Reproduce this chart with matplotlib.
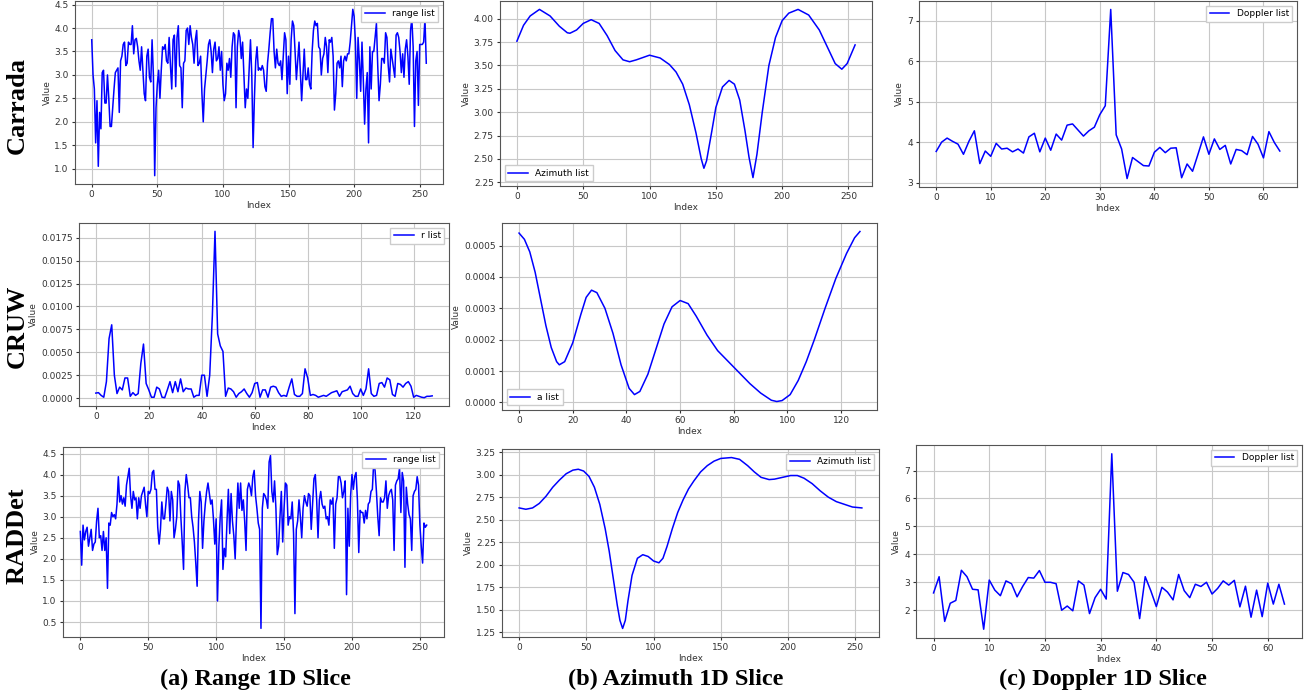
import numpy as np
import matplotlib
matplotlib.use('Agg')
import matplotlib.pyplot as plt
from matplotlib.ticker import MultipleLocator

# ---------------- data ----------------
# Carrada
carrada_range = [
    3.75, 3.0, 2.7, 1.55, 2.45, 1.05, 2.2, 1.85, 3.05, 3.1,
    2.4, 2.4, 3.0, 2.5, 1.9, 1.9, 2.3, 2.7, 3.05, 3.1,
    3.15, 2.2, 3.3, 3.4, 3.65, 3.7, 3.2, 3.25, 3.7, 3.65,
    3.65, 4.05, 3.45, 3.75, 3.78, 3.6, 3.3, 3.1, 3.6, 3.1,
    2.6, 2.45, 3.4, 3.55, 2.95, 2.85, 3.75, 3.0, 0.85, 2.3,
    2.8, 3.1, 2.5, 3.1, 3.6, 3.55, 3.65, 3.3, 3.25, 3.8,
    3.2, 2.7, 3.75, 3.85, 2.75, 3.8, 4.05, 3.2, 3.15, 2.3,
    3.25, 3.3, 3.95, 4.0, 3.65, 4.05, 3.8, 3.65, 3.25, 3.75,
    3.95, 3.2, 3.25, 3.4, 2.6, 2.0, 2.7, 3.0, 3.3, 3.65,
    3.75, 3.5, 3.05, 3.55, 3.7, 3.3, 3.35, 3.6, 3.1, 3.5,
    2.8, 2.45, 2.6, 3.25, 3.1, 3.35, 2.95, 3.6, 3.9, 3.85,
    2.3, 3.6, 3.95, 3.8, 3.35, 3.7, 3.0, 2.3, 2.7, 2.5,
    3.1, 3.75, 3.0, 1.45, 2.5, 3.3, 3.6, 3.1, 3.15, 3.1,
    3.2, 3.1, 2.75, 2.65, 3.25, 3.55, 3.9, 4.2, 4.2, 3.5,
    3.15, 3.55, 3.25, 3.2, 3.3, 2.9, 3.4, 3.9, 3.75, 2.6,
    3.4, 2.8, 3.75, 4.15, 4.05, 3.5, 2.9, 3.3, 3.7, 3.05,
    2.45, 3.0, 3.55, 2.9, 2.9, 3.15, 2.8, 2.7, 3.5, 3.95,
    4.15, 4.05, 4.1, 3.6, 3.55, 3.0, 3.35, 3.45, 3.8, 3.6,
    3.05, 3.75, 3.7, 3.8, 3.4, 2.25, 2.6, 3.25, 3.3, 3.15,
    3.4, 2.75, 3.3, 3.4, 3.3, 3.45, 3.45, 3.7, 4.05, 4.4,
    4.25, 3.7, 2.5, 3.8, 3.3, 2.65, 3.7, 2.9, 1.95, 2.7,
    3.05, 1.55, 3.6, 2.7, 3.5, 3.5, 3.8, 4.1, 3.2, 2.45,
    2.8, 3.35, 3.35, 3.25, 3.9, 3.8, 3.2, 2.85, 3.55, 3.35,
    3.15, 2.95, 3.85, 3.9, 3.8, 3.5, 3.05, 3.45, 2.95, 3.55,
    3.75, 3.4, 2.8, 3.95, 4.2, 3.6, 1.9, 3.3, 3.5, 2.35,
    3.65, 3.65, 3.65, 3.7, 4.2, 3.25]

carrada_az_idx = [0, 5, 10, 17, 25, 32, 38, 40, 45, 50, 56, 62, 68, 74, 80, 85, 90,
                  100, 108, 115, 120, 125, 130, 135, 139, 141, 143, 147, 150, 155,
                  160, 164, 168, 172, 175, 178, 181, 185, 190, 195, 200, 205, 212,
                  220, 228, 235, 240, 245, 249, 255]
carrada_az = [3.76, 3.93, 4.03, 4.10, 4.03, 3.92, 3.85, 3.845, 3.88, 3.95, 3.99, 3.95,
              3.82, 3.66, 3.56, 3.54, 3.56, 3.61, 3.58, 3.51, 3.43, 3.30, 3.08, 2.78,
              2.50, 2.40, 2.48, 2.80, 3.05, 3.27, 3.34, 3.30, 3.13, 2.80, 2.52, 2.30,
              2.55, 3.00, 3.50, 3.80, 3.98, 4.06, 4.10, 4.04, 3.88, 3.67, 3.52, 3.46,
              3.52, 3.72]

carrada_dop = [
    3.77, 4.0, 4.1, 4.02, 3.95, 3.7, 4.02, 4.28, 3.47, 3.78,
    3.65, 3.97, 3.83, 3.85, 3.76, 3.83, 3.73, 4.13, 4.22, 3.76,
    4.1, 3.8, 4.2, 4.05, 4.42, 4.45, 4.3, 4.15, 4.28, 4.37,
    4.68, 4.9, 7.28, 4.18, 3.83, 3.1, 3.62, 3.52, 3.42, 3.41,
    3.75, 3.87, 3.74, 3.85, 3.86, 3.12, 3.46, 3.28, 3.7, 4.13,
    3.7, 4.08, 3.82, 3.92, 3.46, 3.82, 3.79, 3.69, 4.14, 3.95,
    3.61, 4.26, 3.99, 3.78]

# CRUW (values in units of 1e-3)
cruw_range_milli = [
    0.55, 0.6, 0.3, 0.1, 1.8, 6.5, 8.0, 2.5, 0.5, 1.2,
    0.9, 2.2, 2.2, 0.2, 0.6, 0.3, 0.5, 3.8, 5.9, 1.6,
    0.9, 0.1, 0.1, 1.2, 1.0, 0.1, 0.05, 0.9, 1.8, 0.6,
    1.8, 0.7, 2.1, 0.7, 1.1, 1.0, 1.0, 0.1, 0.3, 0.3,
    2.5, 2.5, 0.2, 2.5, 9.0, 18.2, 7.0, 5.7, 5.1, 0.2,
    1.1, 1.0, 0.7, 0.1, 0.5, 0.7, 1.0, 0.5, 0.1, 0.6,
    1.6, 1.7, 0.1, 0.9, 0.9, 0.1, 1.2, 1.3, 1.2, 0.6,
    0.2, 0.3, 0.2, 1.2, 2.1, 0.4, 0.2, 0.2, 0.5, 3.2,
    2.2, 0.3, 0.4, 0.3, 0.1, 0.2, 0.3, 0.2, 0.4, 0.6,
    0.7, 0.8, 0.2, 0.7, 0.8, 0.9, 1.3, 0.5, 0.2, 0.2,
    1.0, 0.3, 1.0, 3.2, 0.5, 0.2, 0.3, 1.6, 1.7, 1.2,
    2.2, 2.0, 0.4, 0.2, 1.6, 1.5, 1.2, 1.6, 1.8, 1.3,
    0.1, 0.3, 0.2, 0.1, 0.05, 0.2, 0.2, 0.25]

cruw_az_idx = [0, 2, 4, 6, 8, 10, 12, 14, 15, 17, 20, 23, 25, 27, 29, 32, 35, 38, 41,
               43, 45, 48, 51, 54, 57, 60, 63, 66, 70, 74, 78, 82, 86, 90, 94, 96, 98,
               101, 104, 107, 110, 114, 118, 122, 125, 127]
cruw_az_milli = [0.54, 0.52, 0.48, 0.415, 0.33, 0.245, 0.175, 0.13, 0.12, 0.13, 0.19,
                 0.28, 0.335, 0.358, 0.35, 0.30, 0.22, 0.12, 0.045, 0.025, 0.035, 0.09,
                 0.17, 0.25, 0.305, 0.325, 0.315, 0.275, 0.215, 0.165, 0.13, 0.095,
                 0.06, 0.03, 0.007, 0.003, 0.006, 0.025, 0.07, 0.13, 0.20, 0.30, 0.395,
                 0.475, 0.525, 0.545]

# RADDet
raddet_range = [
    2.65, 1.85, 2.8, 2.45, 2.65, 2.75, 2.3, 2.5, 2.7, 2.2,
    2.35, 2.4, 2.9, 3.2, 2.5, 2.55, 2.2, 2.65, 2.2, 2.5,
    1.3, 2.85, 2.8, 3.1, 3.0, 3.05, 2.95, 3.3, 3.95, 3.35,
    3.5, 3.3, 3.45, 3.25, 3.75, 3.95, 4.15, 3.5, 3.2, 3.6,
    3.4, 3.45, 2.95, 3.45, 3.2, 3.5, 3.6, 3.7, 3.3, 3.0,
    3.6, 3.55, 3.65, 4.05, 4.1, 3.65, 3.65, 2.75, 2.35, 2.7,
    3.35, 2.95, 2.95, 3.3, 3.7, 3.6, 2.9, 3.6, 3.4, 2.5,
    2.7, 3.0, 3.85, 3.75, 3.0, 2.4, 1.75, 3.6, 4.0, 3.75,
    3.45, 3.45, 3.0, 2.75, 2.4, 1.9, 1.35, 2.9, 3.6, 3.35,
    2.25, 2.9, 3.3, 3.6, 3.8, 3.55, 3.3, 3.4, 2.95, 2.35,
    2.95, 1.0, 2.3, 3.0, 3.4, 1.75, 2.25, 2.05, 2.9, 3.65,
    2.6, 3.55, 2.9, 2.55, 2.0, 3.0, 3.8, 3.2, 3.8, 3.15,
    3.4, 2.9, 2.2, 3.65, 3.8, 3.7, 3.5, 3.95, 4.1, 3.5,
    3.2, 2.85, 2.7, 0.35, 3.2, 3.55, 3.5, 3.4, 3.2, 4.3,
    4.45, 3.6, 3.35, 3.85, 3.2, 2.1, 2.3, 3.0, 3.6, 2.4,
    3.2, 3.8, 3.75, 2.8, 3.0, 2.95, 3.35, 2.6, 0.7, 2.7,
    2.9, 3.4, 3.0, 2.5, 3.2, 3.5, 3.35, 3.25, 3.55, 3.5,
    2.7, 3.3, 3.9, 4.0, 3.4, 2.5, 3.4, 3.6, 3.3, 3.2,
    3.25, 2.95, 3.0, 2.8, 3.4, 3.3, 3.45, 2.25, 3.3, 3.45,
    3.95, 3.95, 3.8, 3.45, 3.6, 3.85, 1.15, 3.2, 2.3, 3.5,
    4.0, 3.65, 3.95, 4.05, 3.4, 2.15, 3.15, 3.1, 3.1, 2.85,
    3.15, 2.95, 3.3, 3.35, 3.6, 3.65, 4.3, 4.1, 3.6, 3.0,
    2.55, 3.45, 3.35, 3.35, 3.45, 3.85, 3.2, 3.5, 3.6, 3.65,
    3.4, 2.2, 3.75, 3.85, 3.9, 4.15, 3.1, 4.05, 3.85, 1.8,
    3.7, 3.3, 3.05, 2.95, 2.2, 3.5, 3.6, 3.65, 3.95, 3.75,
    2.8, 2.3, 1.9, 2.85, 2.75, 2.8]

raddet_az_idx = [0, 5, 10, 15, 20, 25, 30, 35, 40, 44, 48, 52, 56, 60, 64, 67, 70, 73,
                 75, 77, 79, 81, 84, 88, 92, 96, 100, 104, 107, 110, 114, 118, 122, 126,
                 130, 135, 140, 145, 150, 158, 164, 170, 175, 180, 186, 190, 196, 202,
                 207, 212, 218, 224, 230, 236, 242, 248, 255]
raddet_az = [2.63, 2.615, 2.63, 2.68, 2.76, 2.86, 2.94, 3.01, 3.05, 3.06, 3.04, 2.98,
             2.86, 2.67, 2.40, 2.15, 1.85, 1.55, 1.38, 1.29, 1.38, 1.60, 1.88, 2.07,
             2.11, 2.09, 2.04, 2.02, 2.07, 2.20, 2.40, 2.58, 2.72, 2.84, 2.93, 3.03,
             3.10, 3.15, 3.18, 3.19, 3.17, 3.10, 3.03, 2.97, 2.945, 2.95, 2.97, 2.99,
             2.99, 2.96, 2.90, 2.82, 2.75, 2.70, 2.67, 2.64, 2.63]

raddet_dop = [
    2.62, 3.2, 1.6, 2.25, 2.35, 3.43, 3.2, 2.75, 2.73, 1.32,
    3.08, 2.72, 2.52, 3.05, 2.95, 2.48, 2.85, 3.17, 3.15, 3.42,
    3.0, 3.0, 2.95, 2.0, 2.15, 1.98, 3.05, 2.9, 1.88, 2.45,
    2.75, 2.4, 7.6, 2.68, 3.35, 3.28, 3.0, 1.7, 3.2, 2.7,
    2.13, 2.82, 2.65, 2.37, 3.28, 2.7, 2.45, 2.93, 2.85, 3.0,
    2.58, 2.78, 3.05, 2.9, 3.07, 2.12, 2.86, 1.75, 2.72, 1.77,
    2.97, 2.22, 2.93, 2.22]

row_names = ['Carrada', 'CRUW', 'RADDet']
captions = ['(a) Range 1D Slice', '(b) Azimuth 1D Slice', '(c) Doppler 1D Slice']

# ---------------- figure ----------------
W, H = 1308, 696
fig = plt.figure(figsize=(W / 100, H / 100), dpi=100)


def panel(box, x, y, label, loc):
    # box = left, top, right, bottom in pixels
    l, t, r, b = box
    ax = fig.add_axes([l / W, 1 - b / H, (r - l) / W, (b - t) / H])
    ax.plot(x, y, color='blue', lw=1.1, label=label)
    ax.grid(True, color='#c8c8c8', lw=0.8)
    ax.set_xlabel('Index', fontsize=6.5, labelpad=1, color='#333333')
    ax.set_ylabel('Value', fontsize=6.5, labelpad=2, color='#333333')
    ax.tick_params(labelsize=6.5, length=2.5, pad=2, colors='#333333')
    for s in ax.spines.values():
        s.set_color('#555555')
    ax.legend(loc=loc, fontsize=6.5, handlelength=2.2, borderpad=0.4,
              fancybox=False, framealpha=1, edgecolor='#cccccc')
    return ax


panel((75, 1, 443, 184), np.arange(len(carrada_range)), carrada_range, 'range list', 'upper right')
panel((500, 1, 872, 186), carrada_az_idx, carrada_az, 'Azimuth list', 'lower left')
panel((919, 1, 1297, 187), np.arange(len(carrada_dop)), carrada_dop, 'Doppler list', 'upper right')

panel((79, 223, 449, 406), np.arange(len(cruw_range_milli)), np.array(cruw_range_milli) * 1e-3,
      'r list', 'upper right')
panel((502, 223, 877, 410), cruw_az_idx, np.array(cruw_az_milli) * 1e-3, 'a list', 'lower left')

ax_rr = panel((63, 447, 444, 637), np.arange(len(raddet_range)), raddet_range, 'range list', 'upper right')
ax_rr.yaxis.set_major_locator(MultipleLocator(0.5))
panel((502, 449, 879, 637), raddet_az_idx, raddet_az, 'Azimuth list', 'upper right')
panel((916, 445, 1302, 638), np.arange(len(raddet_dop)), raddet_dop, 'Doppler list', 'upper right')

# row names and column captions
serif = ['Liberation Serif', 'DejaVu Serif']
for name, yc in zip(row_names, [105, 326, 536]):
    fig.text(17 / W, 1 - yc / H, name, rotation=90, ha='center', va='center',
             fontsize=19, fontweight='bold', family=serif)
for cap, xc in zip(captions, [255, 676, 1103]):
    fig.text(xc / W, 1 - 679 / H, cap, ha='center', va='center',
             fontsize=17.5, fontweight='bold', family=serif)

fig.savefig('out.png', dpi=100)
